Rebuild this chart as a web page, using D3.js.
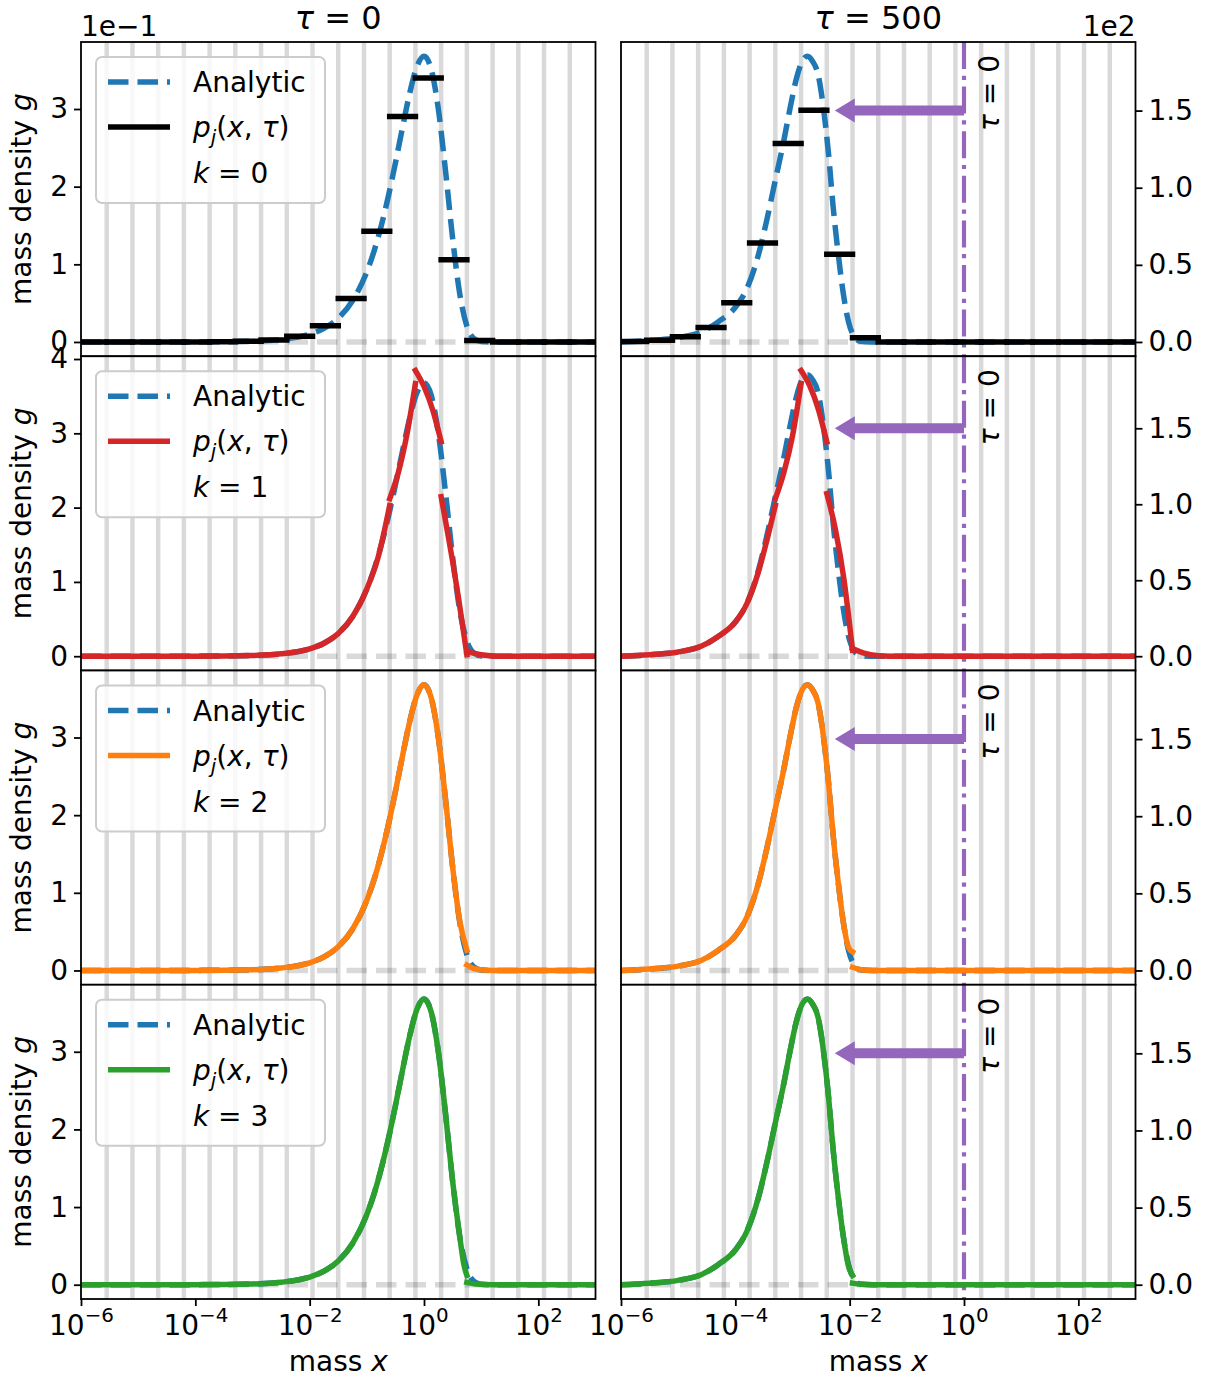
<!DOCTYPE html>
<html>
<head>
<meta charset="utf-8">
<script src="https://cdn.jsdelivr.net/npm/d3@7/dist/d3.min.js"></script>
<style>
  body { margin: 0; background: #fff; }
  svg text { font-family: "DejaVu Sans", sans-serif; fill: #000; white-space: pre; }
</style>
</head>
<body>
<main></main>
<script>
// mass grid bin edges, as log10(x)
const binEdgesLog = [-6, -5.55, -5.1, -4.65, -4.2, -3.75, -3.3, -2.85, -2.4, -1.95, -1.5,
                     -1.05, -0.6, -0.15, 0.3, 0.75, 1.2, 1.65, 2.1, 2.55, 3];

// analytic solution, points [log10 x, g]
const analyticTau0 = [[-6, 0], [-4, 0.0001], [-3, 0.001], [-2.5, 0.0032], [-2, 0.0099], [-1.75, 0.0175],
  [-1.5, 0.0306], [-1.25, 0.0531], [-1, 0.0905], [-0.875, 0.1167], [-0.75, 0.1489], [-0.625, 0.1871],
  [-0.5, 0.2305], [-0.375, 0.2766], [-0.25, 0.3205], [-0.125, 0.3543], [0, 0.3679], [0.125, 0.3515],
  [0.25, 0.3004], [0.375, 0.2214], [0.5, 0.1339], [0.625, 0.0622], [0.75, 0.0203], [0.875, 0.0042],
  [1, 0.0005], [1.25, 0], [3, 0]];
const analyticTau500 = [[-6, 0], [-5.5, 1], [-5, 2.8], [-4.6, 6.5], [-4.3, 13], [-4, 22.5], [-3.8, 34.5],
  [-3.6, 56], [-3.45, 79], [-3.3, 105], [-3.16, 129], [-3.04, 152], [-2.93, 171], [-2.83, 182],
  [-2.74, 185.2], [-2.65, 182], [-2.55, 173], [-2.46, 152], [-2.37, 122], [-2.29, 88], [-2.2, 57],
  [-2.11, 31], [-2.02, 13], [-1.93, 4], [-1.82, 0.5], [-1.6, 0], [3, 0]];

// k = 0 : one value per bin
const k0Tau0 = [0.000002, 0.000006, 0.000016, 0.00004, 0.0001, 0.0003, 0.0009, 0.0025, 0.0075, 0.021,
  0.056, 0.1425, 0.2905, 0.34, 0.106, 0.002, 0, 0, 0, 0];
const k0Tau500 = [0.3, 1.1, 3.4, 9.3, 25.5, 64.1, 128.6, 150.2, 56.9, 2.8, 0, 0, 0, 0, 0, 0, 0, 0, 0, 0];

// k = 1..3 : pieces of the reconstructed polynomial, [log10 x, g]
const k1Tau0 = [
  [[-6, 0], [-4, 0.0001], [-3, 0.001], [-2.5, 0.0032], [-2, 0.0099], [-1.75, 0.0175], [-1.5, 0.0306],
   [-1.25, 0.0531], [-1, 0.0905], [-0.8, 0.134], [-0.6, 0.203]],
  [[-0.6, 0.212], [-0.45, 0.247], [-0.3, 0.298], [-0.15, 0.367]],
  [[-0.15, 0.3845], [0, 0.363], [0.15, 0.332], [0.3, 0.2886]],
  [[0.3, 0.2146], [0.4, 0.172], [0.5, 0.128], [0.6, 0.08], [0.7, 0.028], [0.75, 0.002]],
  [[0.75, 0.006], [1, 0.002], [1.3, 0], [3, 0]]
];
const k1Tau500 = [
  [[-6, 0], [-5.5, 1], [-5, 2.8], [-4.6, 6.5], [-4.3, 13], [-4, 22.5], [-3.8, 34.5], [-3.6, 55],
   [-3.45, 76], [-3.3, 99.3]],
  [[-3.3, 103.7], [-3.15, 121], [-3, 145], [-2.85, 179.4]],
  [[-2.85, 188], [-2.7, 178], [-2.55, 162.8], [-2.4, 141]],
  [[-2.4, 107], [-2.25, 83.6], [-2.1, 50.6], [-1.95, 4]],
  [[-1.95, 5], [-1.75, 2], [-1.5, 0.3], [-1.3, 0], [3, 0]]
];
const k2Tau0 = [
  [[-6, 0], [-4, 0.0001], [-3, 0.001], [-2.5, 0.0032], [-2, 0.0099], [-1.75, 0.0175], [-1.5, 0.0306],
   [-1.25, 0.0531], [-1, 0.0905], [-0.875, 0.1167], [-0.75, 0.1489], [-0.625, 0.1871], [-0.5, 0.2305],
   [-0.375, 0.2766], [-0.25, 0.3205], [-0.125, 0.3543], [0, 0.3679], [0.125, 0.3515], [0.25, 0.3004],
   [0.375, 0.2214], [0.5, 0.1339], [0.625, 0.064], [0.75, 0.026]],
  [[0.75, 0.007], [0.85, 0.003], [1, 0.001], [1.2, 0], [3, 0]]
];
const k2Tau500 = [
  [[-6, 0], [-5.5, 1], [-5, 2.8], [-4.6, 6.5], [-4.3, 13], [-4, 22.5], [-3.8, 34.5], [-3.6, 56],
   [-3.45, 79], [-3.3, 105], [-3.16, 129], [-3.04, 152], [-2.93, 171], [-2.83, 182], [-2.74, 185],
   [-2.65, 182], [-2.55, 173], [-2.46, 152], [-2.37, 122], [-2.29, 88], [-2.2, 57], [-2.11, 31],
   [-2.02, 15], [-1.95, 12]],
  [[-1.95, 2], [-1.8, 0.5], [-1.6, 0], [3, 0]]
];
const k3Tau0 = [
  [[-6, 0], [-4, 0.0001], [-3, 0.001], [-2.5, 0.0032], [-2, 0.0099], [-1.75, 0.0175], [-1.5, 0.0306],
   [-1.25, 0.0531], [-1, 0.0905], [-0.875, 0.1167], [-0.75, 0.1489], [-0.625, 0.1871], [-0.5, 0.2305],
   [-0.375, 0.2766], [-0.25, 0.3205], [-0.125, 0.3543], [0, 0.3679], [0.125, 0.3515], [0.25, 0.3004],
   [0.375, 0.2214], [0.5, 0.1339], [0.625, 0.0622], [0.7, 0.025], [0.75, 0.012]],
  [[0.75, 0.003], [0.9, 0.001], [1.2, 0], [3, 0]]
];
const k3Tau500 = [
  [[-6, 0], [-5.5, 1], [-5, 2.8], [-4.6, 6.5], [-4.3, 13], [-4, 22.5], [-3.8, 34.5], [-3.6, 56],
   [-3.45, 79], [-3.3, 105], [-3.16, 129], [-3.04, 152], [-2.93, 171], [-2.83, 182], [-2.74, 185],
   [-2.65, 182], [-2.55, 173], [-2.46, 152], [-2.37, 122], [-2.29, 88], [-2.2, 57], [-2.11, 31],
   [-2.02, 12], [-1.95, 6]],
  [[-1.95, 1], [-1.8, 0.3], [-1.6, 0], [3, 0]]
];

const polyTau0 = [k0Tau0, k1Tau0, k2Tau0, k3Tau0];
const polyTau500 = [k0Tau500, k1Tau500, k2Tau500, k3Tau500];
const degrees = [0, 1, 2, 3];
const tauValues = ["0", "500"];
const seriesColors = ["#000000", "#d62728", "#ff7f0e", "#2ca02c"];
const xTicks = [1e-6, 1e-4, 1e-2, 1, 1e2];
const xTickExponents = ["−6", "−4", "−2", "0", "2"];
const yTicksTau0 = [[0, 0.1, 0.2, 0.3], [0, 0.1, 0.2, 0.3, 0.4], [0, 0.1, 0.2, 0.3], [0, 0.1, 0.2, 0.3]];
const yTicksTau500 = [0, 50, 100, 150];
const offsetTexts = ["1e−1", "1e2"];
const markerLog = 0;            // tau = 0 position, x = 10^0
const arrowToLog = -2.26;       // arrow tip
const arrowLevel = 150;         // arrow height on the tau = 500 axes

const figWidth = 1210, figHeight = 1380;
const colLeft = [81, 621];
const panelWidth = 514.5, panelHeight = 314.25, axesTop = 42;
const blue = "#1f77b4", purple = "#9467bd";
const gridGray = "rgba(0,0,0,0.15)";

let svg;

const createCanvas = () => {
  return d3.select("main")
           .append("svg")
           .attr("width", figWidth)
           .attr("height", figHeight)
           .style("display", "block");
};

// writes math-like text as tspans: [string, italic, "sub"|"sup"]
const addParts = (text, parts) => {
  let shift = 0;
  parts.forEach(([s, italic, pos]) => {
    const target = pos === "sub" ? 7 : pos === "sup" ? -13 : 0;
    const t = text.append("tspan").text(s).attr("dy", target - shift);
    if (italic) t.style("font-style", "italic");
    if (pos) t.style("font-size", "0.71em");
    shift = target;
  });
  return text;
};

const toPieces = (row, data) => {
  if (row === 0) {
    return data.map((v, i) => [[binEdgesLog[i], v], [binEdgesLog[i + 1], v]]);
  }
  return data;
};

const drawPanel = (row, col) => {
  const left = colLeft[col];
  const top = axesTop + row * panelHeight;
  const analytic = col === 0 ? analyticTau0 : analyticTau500;
  const pieces = toPieces(row, (col === 0 ? polyTau0 : polyTau500)[row]);
  const yMax = d3.max([analytic, ...pieces].flat(), d => d[1]);

  const x = d3.scaleLog().domain([1e-6, 1e3]).range([left, left + panelWidth]);
  const y = d3.scaleLinear().domain([-0.05 * yMax, 1.05 * yMax]).range([top + panelHeight, top]);
  const lineCurve = d3.line().x(d => x(10 ** d[0])).y(d => y(d[1])).curve(d3.curveMonotoneX);
  const lineStraight = d3.line().x(d => x(10 ** d[0])).y(d => y(d[1]));

  const clipId = `clip-${row}-${col}`;
  svg.select("defs").append("clipPath").attr("id", clipId)
     .append("rect").attr("x", left).attr("y", top).attr("width", panelWidth).attr("height", panelHeight);

  svg.append("rect").attr("x", left).attr("y", top).attr("width", panelWidth).attr("height", panelHeight)
     .attr("fill", "#fff");

  const plot = svg.append("g").attr("clip-path", `url(#${clipId})`);

  // bin edges
  plot.selectAll(".edge")
      .data(binEdgesLog.slice(1, -1))
      .enter()
      .append("line")
      .attr("x1", d => x(10 ** d)).attr("x2", d => x(10 ** d))
      .attr("y1", top).attr("y2", top + panelHeight)
      .attr("stroke", gridGray).attr("stroke-width", 4.5);

  // zero line
  plot.append("line")
      .attr("x1", left).attr("x2", left + panelWidth)
      .attr("y1", y(0)).attr("y2", y(0))
      .attr("stroke", gridGray).attr("stroke-width", 5.5)
      .attr("stroke-dasharray", "20.5,9");

  if (col === 1) {
    plot.append("line")
        .attr("x1", x(10 ** markerLog)).attr("x2", x(10 ** markerLog))
        .attr("y1", top).attr("y2", top + panelHeight)
        .attr("stroke", purple).attr("stroke-width", 4.2)
        .attr("stroke-dasharray", "27,6.7,4.2,6.7");
  }

  plot.append("path")
      .datum(analytic)
      .attr("d", lineCurve)
      .attr("fill", "none")
      .attr("stroke", blue).attr("stroke-width", 5.5)
      .attr("stroke-dasharray", "20.5,9");

  plot.selectAll(".piece")
      .data(pieces)
      .enter()
      .append("path")
      .attr("d", d => (row === 0 ? lineStraight : lineCurve)(d))
      .attr("fill", "none")
      .attr("stroke", seriesColors[row]).attr("stroke-width", 5.5)
      .attr("stroke-linecap", "square").attr("stroke-linejoin", "round");

  if (col === 1) {
    const xs = x(10 ** markerLog), xe = x(10 ** arrowToLog), ya = y(arrowLevel);
    const hl = 20, hw = 12, sw = 5;
    plot.append("path")
        .attr("d", `M${xs},${ya - sw}L${xe + hl},${ya - sw}L${xe + hl},${ya - hw}L${xe},${ya}` +
                   `L${xe + hl},${ya + hw}L${xe + hl},${ya + sw}L${xs},${ya + sw}Z`)
        .attr("fill", purple);

    const t = svg.append("text")
       .attr("transform", `translate(${xs + 35},${top + 51}) rotate(-90)`)
       .attr("text-anchor", "middle")
       .attr("font-size", 28);
    addParts(t, [["τ", true], [" = 0", false]]);
  }

  // spines
  svg.append("rect").attr("x", left).attr("y", top).attr("width", panelWidth).attr("height", panelHeight)
     .attr("fill", "none").attr("stroke", "#000").attr("stroke-width", 1.8);

  const yAxis = (col === 0 ? d3.axisLeft(y) : d3.axisRight(y))
      .tickValues(col === 0 ? yTicksTau0[row] : yTicksTau500)
      .tickFormat(col === 0 ? d => String(Math.round(d * 10)) : d => (d / 100).toFixed(1))
      .tickSize(7)
      .tickPadding(6);
  const gy = svg.append("g")
      .attr("transform", `translate(${col === 0 ? left : left + panelWidth},0)`)
      .call(yAxis);
  gy.select(".domain").remove();
  gy.selectAll(".tick line").attr("stroke", "#000").attr("stroke-width", 1.8);
  gy.selectAll(".tick text").attr("font-size", 28).attr("fill", "#000");

  if (row === 3) {
    const gx = svg.append("g")
        .attr("transform", `translate(0,${top + panelHeight})`)
        .call(d3.axisBottom(x).tickValues(xTicks).tickSize(7));
    gx.select(".domain").remove();
    gx.selectAll(".tick line").attr("stroke", "#000").attr("stroke-width", 1.8);
    gx.selectAll(".tick text").remove();
    gx.selectAll(".tick").each(function (d, i) {
      const t = d3.select(this).append("text")
          .attr("y", 36).attr("text-anchor", "middle").attr("font-size", 28);
      addParts(t, [["10", false], [xTickExponents[i], false, "sup"]]);
    });

    const lx = svg.append("text")
       .attr("x", left + panelWidth / 2).attr("y", 1371)
       .attr("text-anchor", "middle").attr("font-size", 28);
    addParts(lx, [["mass ", false], ["x", true]]);
  }

  if (row === 0) {
    const tt = svg.append("text")
       .attr("x", left + panelWidth / 2).attr("y", 29)
       .attr("text-anchor", "middle").attr("font-size", 32);
    addParts(tt, [["τ", true], [" = " + tauValues[col], false]]);

    svg.append("text")
       .attr("x", col === 0 ? left : left + panelWidth).attr("y", 36)
       .attr("text-anchor", col === 0 ? "start" : "end")
       .attr("font-size", 28)
       .text(offsetTexts[col]);
  }

  if (col === 0) {
    const ly = svg.append("text")
       .attr("transform", `translate(31,${top + panelHeight / 2}) rotate(-90)`)
       .attr("text-anchor", "middle").attr("font-size", 28);
    addParts(ly, [["mass density ", false], ["g", true]]);

    // legend
    const lg = svg.append("g").attr("transform", `translate(96,${top + 15})`);
    lg.append("rect")
      .attr("width", 229).attr("height", 146).attr("rx", 6)
      .attr("fill", "#fff").attr("fill-opacity", 0.8)
      .attr("stroke", "#cccccc").attr("stroke-width", 2);
    lg.append("line").attr("x1", 12).attr("x2", 74).attr("y1", 25).attr("y2", 25)
      .attr("stroke", blue).attr("stroke-width", 5.5).attr("stroke-dasharray", "20.5,9");
    lg.append("line").attr("x1", 12).attr("x2", 74).attr("y1", 70).attr("y2", 70)
      .attr("stroke", seriesColors[row]).attr("stroke-width", 5.5);
    lg.append("text").attr("x", 97).attr("y", 35).attr("font-size", 28).text("Analytic");
    addParts(lg.append("text").attr("x", 97).attr("y", 80).attr("font-size", 28),
      [["p", true], ["j", true, "sub"], ["(", false], ["x", true], [", ", false], ["τ", true], [")", false]]);
    addParts(lg.append("text").attr("x", 97).attr("y", 126).attr("font-size", 28),
      [["k", true], [" = " + degrees[row], false]]);
  }
};

const driver = () => {
  svg = createCanvas();
  svg.append("defs");
  degrees.forEach(row => {
    drawPanel(row, 0);
    drawPanel(row, 1);
  });
};

driver();
</script>
</body>
</html>
